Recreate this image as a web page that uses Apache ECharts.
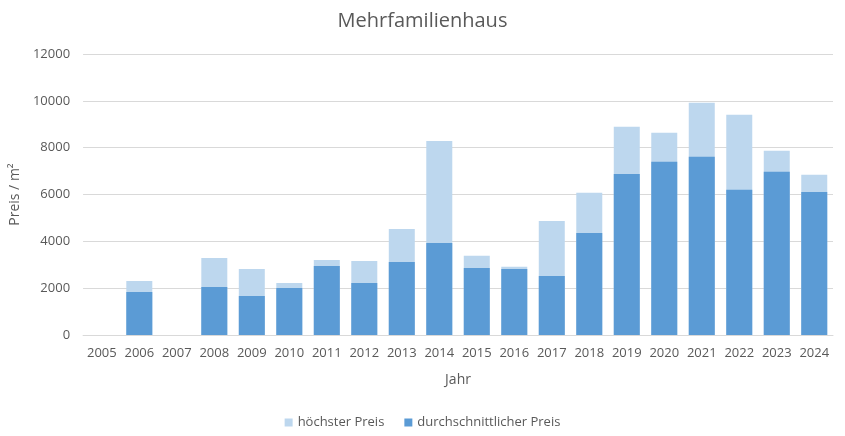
<!DOCTYPE html>
<html>
<head>
<meta charset="utf-8">
<script src="https://cdn.jsdelivr.net/npm/echarts@6/dist/echarts.min.js"></script>
<style>html,body{margin:0;padding:0;background:#fff}#c{width:845px;height:436px}</style>
</head>
<body>
<div id="c"></div>
<script>
const years = ['2005','2006','2007','2008','2009','2010','2011','2012','2013','2014','2015','2016','2017','2018','2019','2020','2021','2022','2023','2024'];
const hoechsterPreis = [null,2310,null,3290,2820,2220,3200,3160,4530,8290,3380,2910,4870,6070,8890,8640,9920,9410,7870,6840];
const durchschnittPreis = [null,1840,null,2050,1670,2010,2950,2220,3120,3930,2860,2820,2520,4360,6880,7400,7610,6200,6970,6110];
const yTicks = { min: 0, max: 12000, interval: 2000 };

const font = 'Open Sans, Noto Sans, sans-serif';
const txt = '#595959';
const chart = echarts.init(document.getElementById('c'), null, { renderer: 'canvas' });
chart.setOption({
  animation: false,
  title: { text: 'Mehrfamilienhaus', left: 'center', top: 6, textStyle: { fontFamily: font, fontSize: 20, fontWeight: 'normal', color: txt } },
  grid: { left: 76, right: 12, top: 54, bottom: 101 },
  legend: {
    bottom: 2, left: 'center', itemWidth: 8, itemHeight: 8, itemGap: 20, icon: 'rect',
    textStyle: { fontFamily: font, fontSize: 13, color: txt },
    data: ['höchster Preis', 'durchschnittlicher Preis']
  },
  xAxis: {
    type: 'category', data: years, name: 'Jahr', nameLocation: 'middle', nameGap: 38,
    nameTextStyle: { fontFamily: font, fontSize: 14, color: txt },
    axisLine: { lineStyle: { color: '#D9D9D9' } }, axisTick: { show: false },
    axisLabel: { fontFamily: font, fontSize: 13, color: txt, margin: 12, interval: 0 }
  },
  yAxis: {
    type: 'value', min: yTicks.min, max: yTicks.max, interval: yTicks.interval,
    name: 'Preis / m²', nameLocation: 'middle', nameGap: 58,
    nameTextStyle: { fontFamily: font, fontSize: 14, color: txt },
    axisLine: { show: false }, axisTick: { show: false },
    axisLabel: { fontFamily: font, fontSize: 13, color: txt, margin: 13, formatter: v => String(v) },
    splitLine: { lineStyle: { color: '#D9D9D9' } }
  },
  series: [
    { name: 'höchster Preis', type: 'bar', data: hoechsterPreis, barWidth: 26, barGap: '-100%', itemStyle: { color: '#BDD7EE' } },
    { name: 'durchschnittlicher Preis', type: 'bar', data: durchschnittPreis, barWidth: 26, barGap: '-100%', itemStyle: { color: '#5B9BD5' } }
  ]
});
</script>
</body>
</html>
